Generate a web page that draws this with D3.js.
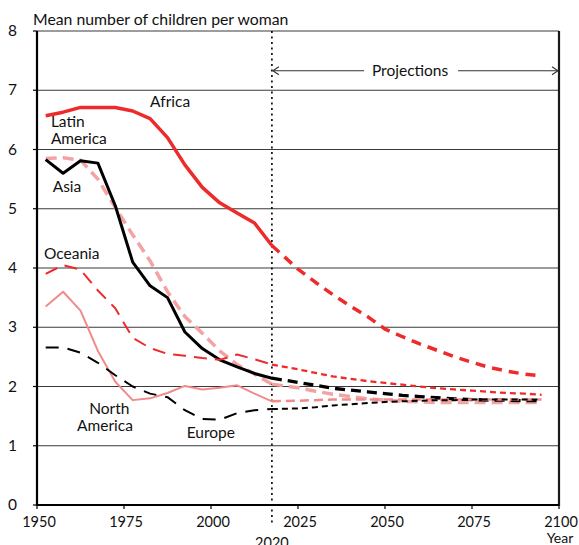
<!DOCTYPE html>
<html><head><meta charset="utf-8">
<script src="https://cdn.jsdelivr.net/npm/d3@7"></script>
<style>
html,body{margin:0;padding:0;background:#fff;}
svg{display:block;}
text{font-family:Lato,"Liberation Sans",sans-serif;fill:#111;}
</style></head>
<body><svg id="chart" width="579" height="545"></svg>
<script>
// ---- data ----
const histYears = [1952.5,1957.5,1962.5,1967.5,1972.5,1977.5,1982.5,1987.5,1992.5,1997.5,2002.5,2007.5,2012.5,2017.5];
const projYears = [2017.5,2025,2030,2035,2040,2045,2050,2055,2060,2065,2070,2075,2080,2085,2090,2095];
const regions = ["Africa","Latin America","Asia","Oceania","North America","Europe"];
const africaHist   = [6.57,6.63,6.71,6.71,6.71,6.65,6.52,6.20,5.74,5.36,5.10,4.93,4.76,4.38];
const latamHist    = [5.85,5.86,5.82,5.50,5.02,4.56,4.12,3.60,3.18,2.90,2.60,2.37,2.21,2.04];
const asiaHist     = [5.83,5.60,5.81,5.77,5.05,4.10,3.70,3.50,2.92,2.64,2.45,2.33,2.22,2.14];
const oceaniaHist  = [3.90,4.05,3.97,3.62,3.32,2.82,2.65,2.55,2.52,2.48,2.45,2.54,2.46,2.37];
const northAmHist  = [3.35,3.60,3.28,2.60,2.08,1.77,1.80,1.89,2.01,1.95,1.98,2.02,1.88,1.75];
const europeHist   = [2.66,2.66,2.57,2.40,2.19,2.00,1.88,1.82,1.60,1.45,1.44,1.55,1.60,1.62];
const africaProj   = [4.38,3.98,3.76,3.55,3.36,3.18,2.97,2.84,2.72,2.61,2.50,2.41,2.32,2.26,2.21,2.18];
const latamProj    = [2.04,1.98,1.92,1.87,1.83,1.79,1.77,1.75,1.74,1.73,1.73,1.73,1.73,1.73,1.73,1.73];
const asiaProj     = [2.14,2.07,2.02,1.97,1.94,1.91,1.88,1.85,1.83,1.81,1.79,1.78,1.77,1.77,1.76,1.76];
const oceaniaProj  = [2.37,2.29,2.23,2.17,2.13,2.09,2.06,2.03,2.00,1.97,1.95,1.93,1.91,1.89,1.88,1.86];
const northAmProj  = [1.75,1.76,1.77,1.78,1.78,1.78,1.78,1.78,1.78,1.78,1.78,1.78,1.78,1.78,1.78,1.78];
const europeProj   = [1.62,1.63,1.65,1.68,1.70,1.72,1.74,1.75,1.76,1.77,1.77,1.78,1.78,1.78,1.78,1.78];
const xTicks = [1950,1975,2000,2025,2050,2075,2100];
const yTicks = [0,1,2,3,4,5,6,7,8];
const projectionStart = 2017.5;
const projectionLabel = "2020";
const titleText = "Mean number of children per woman";
const xAxisTitle = "Year";
const projText = "Projections";

// ---- styles ----
const RED = "#ee2a2a", PINK = "#f4a3a3", SALMON = "#f28a8a", BLACK = "#000";
const styles = {
  "Africa":        {hist:{c:RED,w:3.5,d:null},        proj:{c:RED,w:3.5,d:"10,7"}, hv:africaHist, pv:africaProj},
  "Latin America": {hist:{c:PINK,w:3.5,d:"11,6"},     proj:{c:PINK,w:3.5,d:"11,6"}, hv:latamHist, pv:latamProj},
  "Asia":          {hist:{c:BLACK,w:3,d:null},        proj:{c:BLACK,w:3.3,d:"10,6"}, hv:asiaHist, pv:asiaProj},
  "Oceania":       {hist:{c:RED,w:2,d:"13,8"},        proj:{c:RED,w:2.3,d:"6,4"}, hv:oceaniaHist, pv:oceaniaProj},
  "North America": {hist:{c:SALMON,w:2,d:null},      proj:{c:SALMON,w:2.5,d:"9,5"}, hv:northAmHist, pv:northAmProj},
  "Europe":        {hist:{c:BLACK,w:2,d:"13,9"},      proj:{c:BLACK,w:2,d:"6,4"}, hv:europeHist, pv:europeProj}
};

const svg = d3.select("#chart");
const x = d3.scaleLinear().domain([1950,2100]).range([37,559]);
const y = d3.scaleLinear().domain([0,8]).range([505,31]);

// gridlines
svg.append("g").selectAll("line").data(yTicks.filter(t=>t>0)).join("line")
  .attr("x1",x(1950)).attr("x2",x(2100))
  .attr("y1",d=>y(d)).attr("y2",d=>y(d))
  .attr("stroke","#3a3a3a").attr("stroke-width",1.2);

// y tick marks & labels
svg.append("g").selectAll("line").data(yTicks).join("line")
  .attr("x1",x(1950)-4).attr("x2",x(1950)).attr("y1",d=>y(d)).attr("y2",d=>y(d))
  .attr("stroke","#000").attr("stroke-width",1.2);
svg.append("g").selectAll("text").data(yTicks).join("text")
  .attr("x",17).attr("y",d=>y(d)+5).attr("text-anchor","end")
  .style("font-size","15.5px").text(d=>d);

// x tick marks & labels
svg.append("g").selectAll("line").data(xTicks).join("line")
  .attr("x1",d=>x(d)).attr("x2",d=>x(d)).attr("y1",y(0)).attr("y2",y(0)+4)
  .attr("stroke","#000").attr("stroke-width",1.2);
svg.append("g").selectAll("text").data(xTicks).join("text")
  .attr("x",d=>x(d)+2).attr("y",y(0)+22).attr("text-anchor","middle")
  .style("font-size","14.5px").text(d=>d);
svg.append("text").attr("x",x(projectionStart)).attr("y",y(0)+43).attr("text-anchor","middle")
  .style("font-size","14.5px").text(projectionLabel);
svg.append("text").attr("x",x(2100)+1).attr("y",y(0)+38).attr("text-anchor","middle")
  .style("font-size","14px").text(xAxisTitle);

// projection divider
svg.append("line").attr("x1",x(projectionStart)).attr("x2",x(projectionStart))
  .attr("y1",y(8)).attr("y2",y(0)+18)
  .attr("stroke","#000").attr("stroke-width",1.6).attr("stroke-dasharray","2,3.5");

// series
const line = d3.line().x(d=>x(d[0])).y(d=>y(d[1]));
const g = svg.append("g");
regions.forEach(r=>{
  const s = styles[r];
  const hist = histYears.map((yr,i)=>[yr,s.hv[i]]);
  const proj = projYears.map((yr,i)=>[yr,s.pv[i]]);
  [[proj,s.proj],[hist,s.hist]].forEach(([pts,st])=>{
    g.append("path").datum(pts).attr("d",line)
      .attr("fill","none").attr("stroke",st.c).attr("stroke-width",st.w)
      .attr("stroke-dasharray",st.d).attr("stroke-linejoin","round");
  });
});

// axes frame
svg.append("line").attr("x1",x(1950)).attr("x2",x(1950)).attr("y1",y(8)).attr("y2",y(0)+1)
  .attr("stroke","#000").attr("stroke-width",2.2);
svg.append("line").attr("x1",x(2100)).attr("x2",x(2100)).attr("y1",y(8)).attr("y2",y(0)+1)
  .attr("stroke","#1a1a1a").attr("stroke-width",2.2);
svg.append("line").attr("x1",x(1950)).attr("x2",x(2100)).attr("y1",y(0)).attr("y2",y(0))
  .attr("stroke","#000").attr("stroke-width",2.2);

// title
svg.append("text").attr("x",33).attr("y",25).style("font-size","15.8px").text(titleText);

// projections arrows
const ay = y(7.33);
const arr = svg.append("g").attr("stroke","#333").attr("stroke-width",1.1).attr("fill","none");
arr.append("line").attr("x1",x(projectionStart)+1).attr("x2",x(2044)).attr("y1",ay).attr("y2",ay);
arr.append("line").attr("x1",x(2071)).attr("x2",x(2100)-1).attr("y1",ay).attr("y2",ay);
arr.append("path").attr("d",`M${x(projectionStart)+7},${ay-4}L${x(projectionStart)+1},${ay}L${x(projectionStart)+7},${ay+4}`);
arr.append("path").attr("d",`M${x(2100)-7},${ay-4}L${x(2100)-1},${ay}L${x(2100)-7},${ay+4}`);
svg.append("text").attr("x",x(2057.5)-1).attr("y",ay+5).attr("text-anchor","middle")
  .style("font-size","15.5px").text(projText);

// region labels
const labels = [
  {t:"Africa", x:1982.5, y:6.72},
  {t:"Latin", x:1954, y:6.38},
  {t:"America", x:1954, y:6.10},
  {t:"Asia", x:1954.5, y:5.29},
  {t:"Oceania", x:1952, y:4.16},
  {t:"North", x:1965, y:1.53},
  {t:"America", x:1961.5, y:1.25},
  {t:"Europe", x:1993, y:1.13}
];
svg.append("g").selectAll("text").data(labels).join("text")
  .attr("x",d=>x(d.x)).attr("y",d=>y(d.y)).style("font-size","15.5px").text(d=>d.t);
</script>
</body></html>
